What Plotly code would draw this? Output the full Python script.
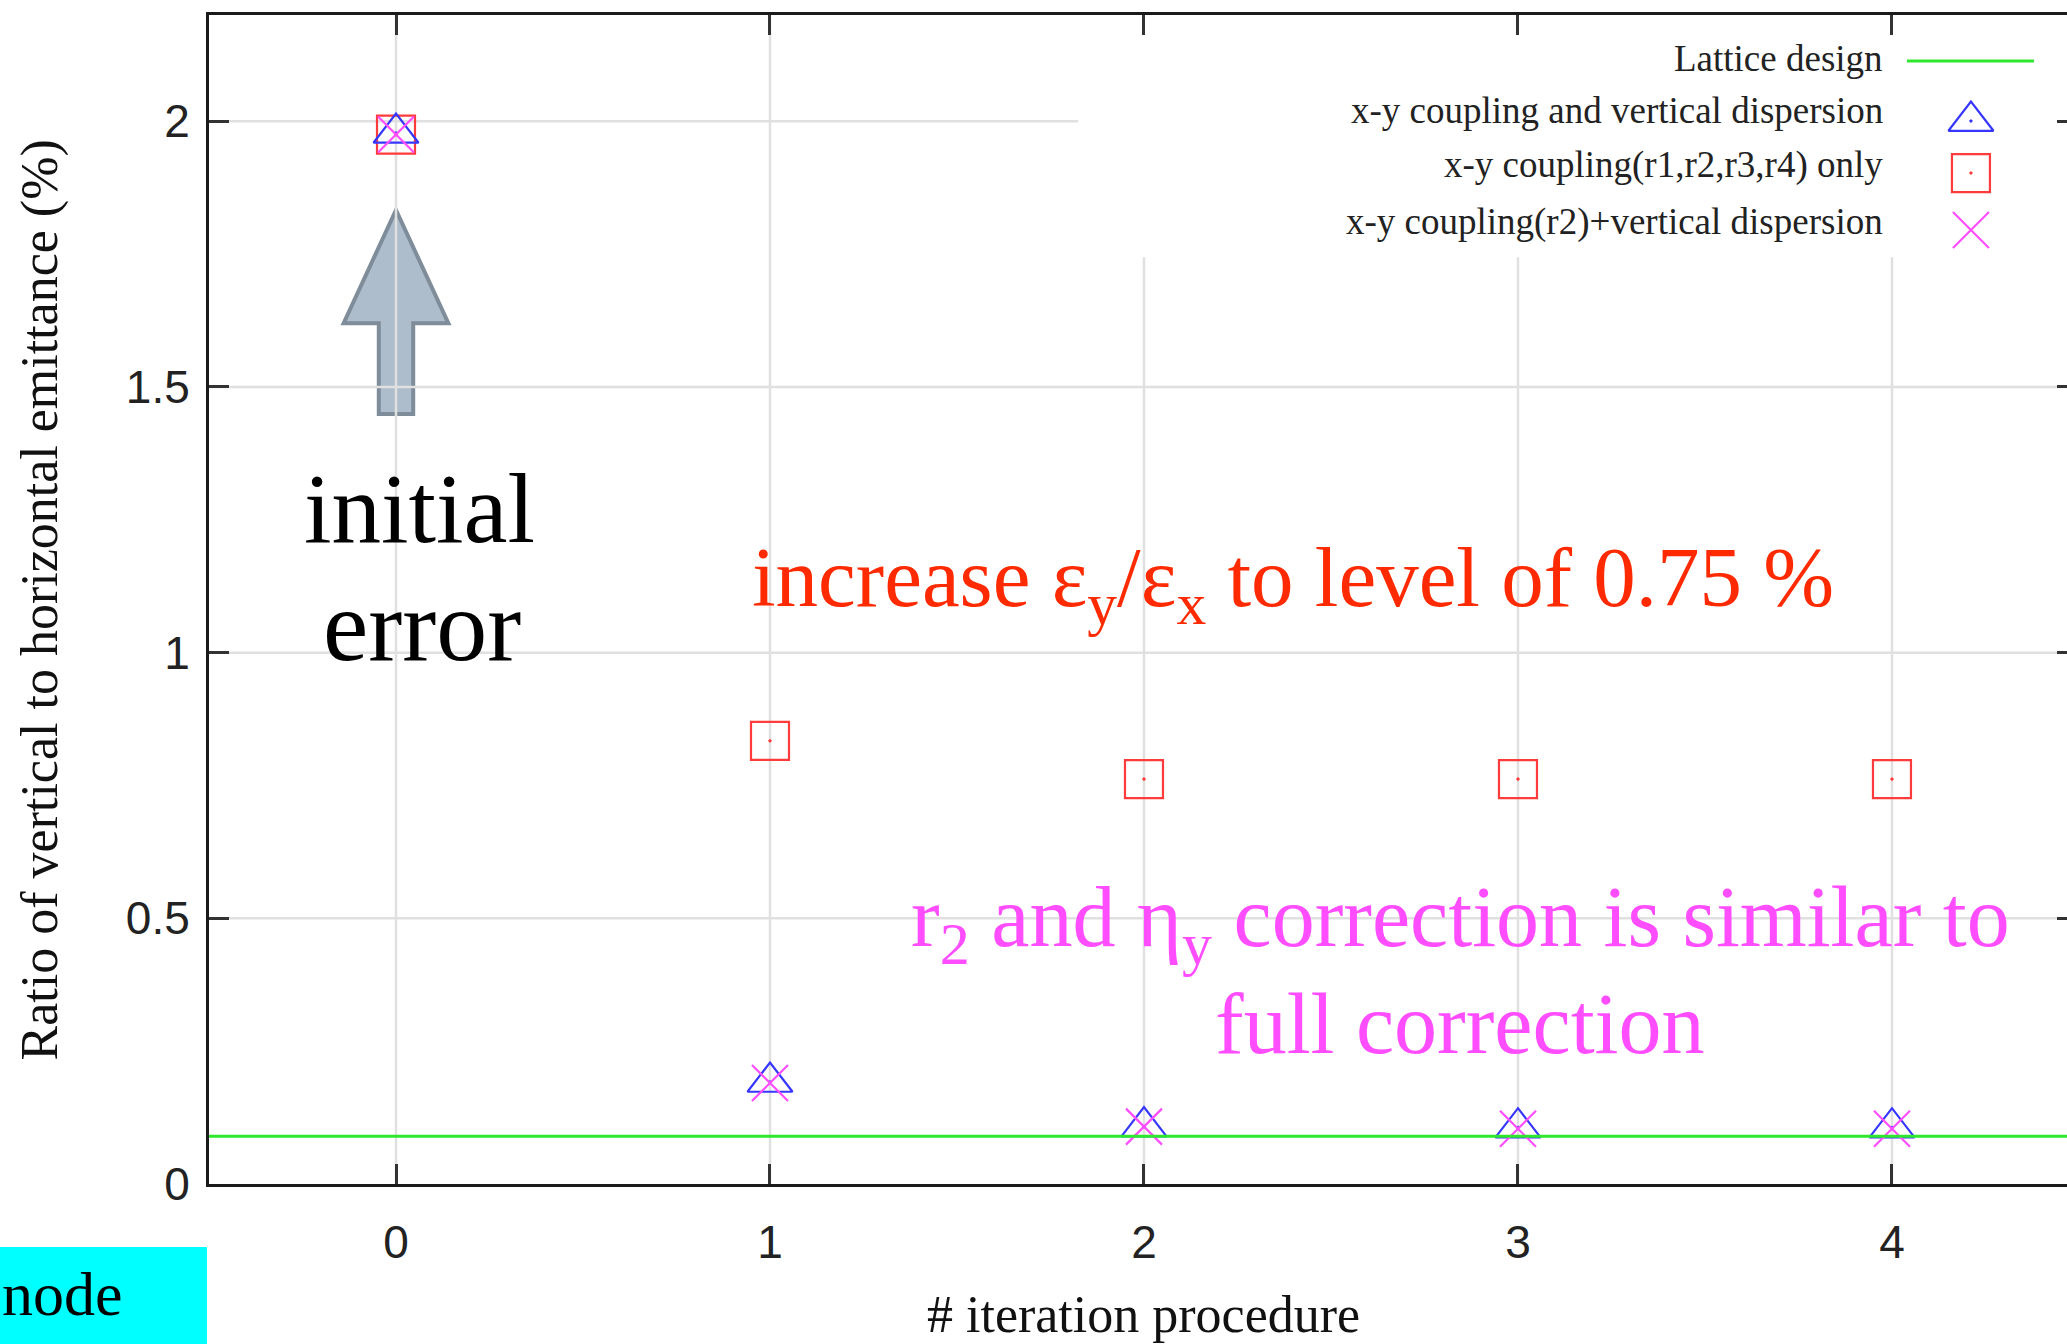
import plotly.graph_objects as go

# ---- data -------------------------------------------------------------
iterations = [0, 1, 2, 3, 4]
coupling_and_dispersion = [1.978, 0.192, 0.108, 0.106, 0.106]   # x-y coupling and vertical dispersion
coupling_only = [1.975, 0.834, 0.762, 0.762, 0.762]             # x-y coupling(r1,r2,r3,r4) only
r2_and_dispersion = [1.975, 0.190, 0.108, 0.104, 0.104]         # x-y coupling(r2)+vertical dispersion
lattice_design = 0.09

series_names = [
    "Lattice design",
    "x-y coupling and vertical dispersion",
    "x-y coupling(r1,r2,r3,r4) only",
    "x-y coupling(r2)+vertical dispersion",
]
x_ticks = [0, 1, 2, 3, 4]
y_ticks = [0, 0.5, 1, 1.5, 2]

# ---- styling ----------------------------------------------------------
W, H = 2067, 1344
X_RANGE = [-0.5, 4.468]
Y_RANGE = [0, 2.2]
KEY_LEFT, KEY_BOTTOM = 1.824, 1.744       # opaque key area (data units)
BLUE = "#3636ff"
RED = "#ff3b3b"
MAGENTA = "#ff4dff"
GREEN = "#2ee82e"
GRID = "#e0e0e0"
SERIF = "Liberation Serif"
SANS = "Liberation Sans"

fig = go.Figure()

# ---- up arrow pointing at the starting value (grid shows through) ------
arrow_path = ("M 0,1.833 L 0.14,1.620 L 0.046,1.620 L 0.046,1.449 "
              "L -0.046,1.449 L -0.046,1.620 L -0.14,1.620 Z")
fig.add_shape(type="path", path=arrow_path, xref="x", yref="y",
              fillcolor="#aebdcb", line=dict(color="#7f8c99", width=4), layer="below")

# ---- grid, interrupted by the opaque key box --------------------------
for xv in x_ticks:
    top = KEY_BOTTOM if xv > KEY_LEFT else Y_RANGE[1]
    fig.add_shape(type="line", xref="x", yref="y", x0=xv, x1=xv, y0=Y_RANGE[0], y1=top,
                  line=dict(color=GRID, width=2.5), layer="below")
for yv in y_ticks[1:]:
    right = KEY_LEFT if yv > KEY_BOTTOM else X_RANGE[1]
    fig.add_shape(type="line", xref="x", yref="y", x0=X_RANGE[0], x1=right, y0=yv, y1=yv,
                  line=dict(color=GRID, width=2.5), layer="below")

# lattice design reference (drawn on the mirrored right-hand y axis, same scale)
fig.add_trace(go.Scatter(
    x=X_RANGE, y=[lattice_design, lattice_design], yaxis="y3",
    mode="lines", line=dict(color=GREEN, width=3),
    name=series_names[0], showlegend=False, hoverinfo="skip",
))
fig.add_trace(go.Scatter(
    x=iterations, y=coupling_only, mode="markers", name=series_names[2],
    marker=dict(symbol="square-open-dot", size=38, color=RED, line=dict(width=2.2, color=RED)),
    showlegend=False,
))
fig.add_trace(go.Scatter(
    x=iterations, y=coupling_and_dispersion, mode="markers", name=series_names[1],
    marker=dict(symbol="triangle-up-open-dot", size=39, color=BLUE, line=dict(width=2.2, color=BLUE)),
    showlegend=False,
))
fig.add_trace(go.Scatter(
    x=iterations, y=r2_and_dispersion, mode="markers", name=series_names[3],
    marker=dict(symbol="x-thin-open", size=36, color=MAGENTA, line=dict(width=2.2, color=MAGENTA)),
    showlegend=False,
))

# ---- key (text right-aligned, sample to the right) ---------------------
key_text_x = 0.902
key_rows_y = [0.9628, 0.9183, 0.8713, 0.8225]
for name, yy in zip(series_names, key_rows_y):
    fig.add_annotation(
        x=key_text_x, y=yy, xref="paper", yref="paper", text=name,
        showarrow=False, xanchor="right", yanchor="middle",
        font=dict(family=SERIF, size=37, color="#222222"),
    )
fig.add_shape(type="line", xref="paper", yref="paper",
              x0=0.9139, x1=0.9822, y0=0.9606, y1=0.9606,
              line=dict(color=GREEN, width=3))
key_marker_x = 0.9483
fig.add_trace(go.Scatter(
    x=[key_marker_x], y=[0.9093], xaxis="x2", yaxis="y2", mode="markers",
    marker=dict(symbol="triangle-up-open-dot", size=39, color=BLUE, line=dict(width=2.2, color=BLUE)),
    showlegend=False, hoverinfo="skip",
))
fig.add_trace(go.Scatter(
    x=[key_marker_x], y=[0.8648], xaxis="x2", yaxis="y2", mode="markers",
    marker=dict(symbol="square-open-dot", size=38, color=RED, line=dict(width=2.2, color=RED)),
    showlegend=False, hoverinfo="skip",
))
fig.add_trace(go.Scatter(
    x=[key_marker_x], y=[0.8161], xaxis="x2", yaxis="y2", mode="markers",
    marker=dict(symbol="x-thin-open", size=36, color=MAGENTA, line=dict(width=2.2, color=MAGENTA)),
    showlegend=False, hoverinfo="skip",
))

# ---- text notes -------------------------------------------------------
note = dict(showarrow=False, xanchor="center", yanchor="middle")
fig.add_annotation(x=0.064, y=1.271, xref="x", yref="y", text="initial",
                   font=dict(family=SERIF, size=99, color="black"), **note)
fig.add_annotation(x=0.069, y=1.051, xref="x", yref="y", text="error",
                   font=dict(family=SERIF, size=102, color="black"), **note)
fig.add_annotation(x=2.398, y=1.131, xref="x", yref="y",
                   text="increase ε<sub>y</sub>/ε<sub>x</sub> to level of 0.75 %",
                   font=dict(family=SERIF, size=85, color="#ff2a00"), **note)
fig.add_annotation(x=2.845, y=0.4906, xref="x", yref="y",
                   text="r<sub>2</sub> and η<sub>y</sub> correction is similar to",
                   font=dict(family=SERIF, size=86, color=MAGENTA), **note)
fig.add_annotation(x=2.845, y=0.302, xref="x", yref="y", text="full correction",
                   font=dict(family=SERIF, size=86, color=MAGENTA), **note)

# ---- axis titles ------------------------------------------------------
fig.add_annotation(x=2, y=-0.112, xref="x", yref="paper", text="# iteration procedure",
                   font=dict(family=SERIF, size=52, color="#111111"), **note)
fig.add_annotation(x=-0.091, y=0.5, xref="paper", yref="paper",
                   text="Ratio of vertical to horizontal emittance (%)", textangle=-90,
                   font=dict(family=SERIF, size=52, color="#111111"), **note)

# ---- corner tag -------------------------------------------------------
fig.add_shape(type="rect", xref="paper", yref="paper",
              x0=-0.2, x1=-0.0011, y0=-0.2, y1=-0.0539,
              fillcolor="#00ffff", line=dict(width=0))
fig.add_annotation(x=-0.1125, y=-0.094, xref="paper", yref="paper", text="node",
                   xanchor="left", yanchor="middle", showarrow=False,
                   font=dict(family=SERIF, size=62, color="black"))

# ---- axes -------------------------------------------------------------
axis_common = dict(
    showline=True, linecolor="#1a1a1a", linewidth=3,
    ticks="inside", ticklen=20, tickwidth=2.5, tickcolor="#333333",
    showgrid=False, zeroline=False,
    tickfont=dict(family=SANS, size=46, color="#222222"),
)
fig.update_layout(
    width=W, height=H, autosize=False,
    margin=dict(l=209, r=0, t=15, b=160),
    paper_bgcolor="white", plot_bgcolor="white",
    showlegend=False,
    xaxis=dict(range=X_RANGE, tickvals=x_ticks, mirror="ticks",
               ticklabelstandoff=16, **axis_common),
    yaxis=dict(range=Y_RANGE, tickvals=y_ticks, mirror=False,
               ticklabelstandoff=7, **axis_common),
    yaxis3=dict(overlaying="y", matches="y", side="right", showline=False,
                ticks="inside", ticklen=10, tickwidth=2.5, tickcolor="#333333",
                tickvals=y_ticks, showticklabels=False, showgrid=False, zeroline=False),
    xaxis2=dict(overlaying="x", range=[0, 1], visible=False, fixedrange=True),
    yaxis2=dict(overlaying="y", range=[0, 1], visible=False, fixedrange=True),
)

fig.write_html("out.html")
